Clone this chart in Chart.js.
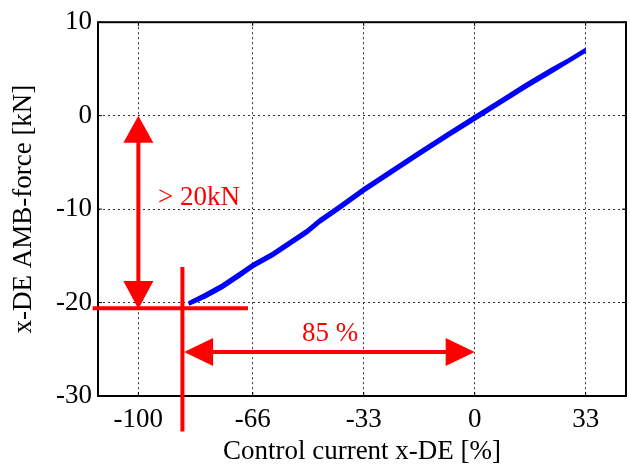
<!DOCTYPE html>
<html>
<head>
<meta charset="utf-8">
<script src="https://cdn.jsdelivr.net/npm/chart.js@4"></script>
<style>
  html, body { margin: 0; padding: 0; background: #fff; }
</style>
</head>
<body>
<canvas id="chart" width="630" height="468"></canvas>
<script>
// tick labels
const xTicks = [-100, -66, -33, 0, 33];
const yTicks = [-30, -20, -10, 0, 10];

// measured band (control current % vs force kN), two branches of the loop
const currentPct = [-85, -80, -75, -70, -66, -60, -55, -50, -46, -40, -33, -25, -17, -8, 0, 8, 15, 23, 28, 33];
const forceUpper = [-20.0, -19.1, -18.1, -16.9, -15.9, -14.7, -13.5, -12.3, -11.1, -9.6, -7.8, -5.9, -4.0, -1.9, -0.1, 1.7, 3.3, 5.0, 6.0, 7.1];
const forceLower = [-20.2, -19.4, -18.4, -17.2, -16.2, -15.0, -13.8, -12.6, -11.4, -9.9, -8.1, -6.2, -4.3, -2.2, -0.4, 1.4, 3.0, 4.7, 5.8, 6.9];

const RED = "#ff0000";
const SERIF = "'Liberation Serif', 'Times New Roman', serif";
const FS = 27;

function arrowHead(ctx, tx, ty, dx, dy, len, half) {
  // tip at (tx,ty), pointing along (dx,dy)
  const bx = tx - dx * len, by = ty - dy * len;
  ctx.beginPath();
  ctx.moveTo(tx, ty);
  ctx.lineTo(bx - dy * half, by + dx * half);
  ctx.lineTo(bx + dy * half, by - dx * half);
  ctx.closePath();
  ctx.fill();
}

function seg(ctx, x1, y1, x2, y2) {
  ctx.beginPath();
  ctx.moveTo(x1, y1);
  ctx.lineTo(x2, y2);
  ctx.stroke();
}

const overlay = {
  id: "overlay",
  afterDraw(chart) {
    const { ctx, chartArea: a, scales } = chart;
    const px = (v) => scales.x.getPixelForValue(v);
    const py = (v) => scales.y.getPixelForValue(v);
    ctx.save();

    // axes box
    ctx.strokeStyle = "#000";
    ctx.lineWidth = 2;
    ctx.strokeRect(a.left, a.top, a.right - a.left, a.bottom - a.top);

    // inward tick marks
    ctx.lineWidth = 1;
    xTicks.forEach((t) => {
      seg(ctx, px(t), a.bottom, px(t), a.bottom - 4);
      seg(ctx, px(t), a.top, px(t), a.top + 4);
    });
    yTicks.forEach((t) => {
      seg(ctx, a.left, py(t), a.left + 4, py(t));
      seg(ctx, a.right, py(t), a.right - 4, py(t));
    });

    // annotations
    ctx.strokeStyle = RED;
    ctx.fillStyle = RED;
    ctx.lineWidth = 4;
    ctx.lineCap = "butt";

    // horizontal marker at -20.6 kN
    seg(ctx, px(-113.6), py(-20.6), px(-67.4), py(-20.6));
    // vertical marker at -87 %
    seg(ctx, px(-86.9), py(-16.2), px(-86.9), py(-33.8));

    // double arrow > 20kN
    const ax = px(-100), aTop = py(0), aBot = py(-20.7);
    seg(ctx, ax, aTop + 20, ax, aBot - 20);
    arrowHead(ctx, ax, aTop, 0, -1, 27, 15);
    arrowHead(ctx, ax, aBot, 0, 1, 28, 15);

    // double arrow 85 %
    const hy = py(-25.3), hL = px(-86.4), hR = px(0);
    seg(ctx, hL + 20, hy, hR - 20, hy);
    arrowHead(ctx, hL, hy, -1, 0, 29, 14);
    arrowHead(ctx, hR, hy, 1, 0, 29, 14);

    ctx.font = FS + "px " + SERIF;
    ctx.textAlign = "center";
    ctx.textBaseline = "alphabetic";
    ctx.fillText("> 20kN", px(-82), py(-9.6));
    ctx.fillText("85 %", px(-43), py(-24.1));

    ctx.restore();
  }
};

const bandStyle = {
  showLine: true,
  borderColor: "#0000ff",
  borderWidth: 3,
  pointRadius: 0,
};

new Chart(document.getElementById("chart"), {
  type: "scatter",
  data: {
    datasets: [
      Object.assign({ data: currentPct.map((x, i) => ({ x, y: forceUpper[i] })) }, bandStyle),
      Object.assign({ data: currentPct.map((x, i) => ({ x, y: forceLower[i] })) }, bandStyle),
    ],
  },
  options: {
    responsive: false,
    animation: false,
    layout: { padding: { left: 8, right: 4, top: 17, bottom: 0 } },
    plugins: { legend: { display: false }, tooltip: { enabled: false } },
    scales: {
      x: {
        type: "linear",
        min: -112,
        max: 45,
        afterBuildTicks: (s) => { s.ticks = xTicks.map((v) => ({ value: v })); },
        afterFit: (s) => { s.height = 72; },
        ticks: { color: "#000", font: { family: SERIF, size: FS }, padding: 8, maxRotation: 0 },
        grid: { color: "#333", lineWidth: 1, drawTicks: false },
        border: { display: false, dash: [2, 3] },
        title: {
          display: true,
          text: "Control current x-DE [%]",
          color: "#000",
          font: { family: SERIF, size: FS },
          padding: { top: 0, bottom: 0 },
        },
      },
      y: {
        type: "linear",
        min: -30,
        max: 10,
        afterBuildTicks: (s) => { s.ticks = yTicks.map((v) => ({ value: v })); },
        afterFit: (s) => { s.width = 90; },
        ticks: { color: "#000", font: { family: SERIF, size: FS }, padding: 6 },
        grid: { color: "#333", lineWidth: 1, drawTicks: false },
        border: { display: false, dash: [2, 3] },
        title: {
          display: true,
          text: "x-DE AMB-force [kN]",
          color: "#000",
          font: { family: SERIF, size: FS },
          padding: { top: 0, bottom: 0 },
        },
      },
    },
  },
  plugins: [overlay],
});
</script>
</body>
</html>
